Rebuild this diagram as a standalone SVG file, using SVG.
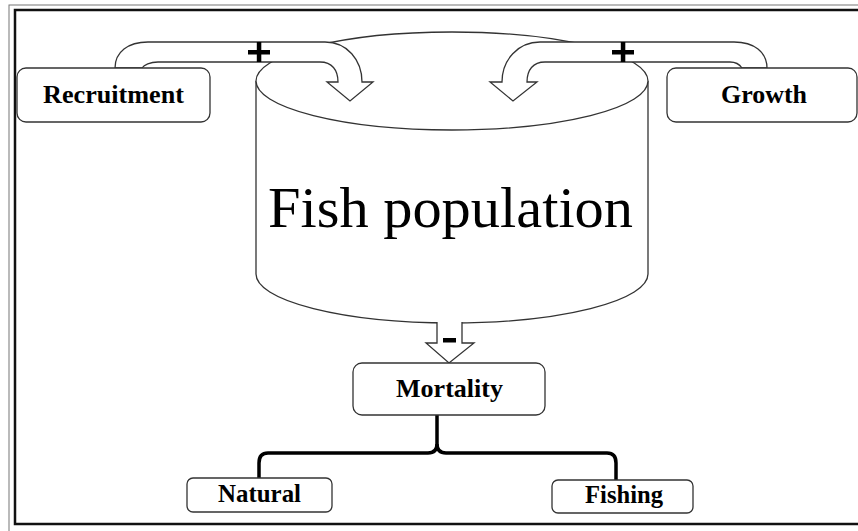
<svg xmlns="http://www.w3.org/2000/svg" width="858" height="531" viewBox="0 0 858 531">
<style>
.shape{fill:#fff;stroke:#333;stroke-width:1.3}
.box{fill:#fff;stroke:#333;stroke-width:1.3}
.lbl{font-family:"Liberation Serif","Times New Roman",serif;font-weight:bold;font-size:25px;fill:#000;text-anchor:middle}
.big{font-family:"Liberation Serif","Times New Roman",serif;font-size:58px;fill:#000;text-anchor:middle}
.sign{fill:#000}
.brace{fill:none;stroke:#000;stroke-width:3.5;stroke-linecap:butt}
</style>
<rect width="858" height="531" fill="#fff"/>
<rect x="9" y="5" width="870" height="540" fill="none" stroke="#777" stroke-width="1"/>
<rect x="15" y="10" width="870" height="514" fill="none" stroke="#111" stroke-width="2.5"/>

<g id="fish-population">
<path class="shape" d="M256,81 A196,49 0 0 1 648,81 L648,274 A196,49 0 0 1 256,274 Z"/>
<path class="shape" fill="none" d="M256,81 A196,49 0 0 0 648,81"/>
<text class="big" x="450.5" y="227" textLength="365" lengthAdjust="spacingAndGlyphs">Fish population</text>
</g>

<g id="connectors">
<path class="shape" d="M115,68 C115,52 128,42 148,42 L325,42 C347,42 362,60 362,82 L373,82 L350,101 L327,82 L338,82 C338,70 332,62 320,62 L158,62 C150,62 144,65 142,68 Z"/>
<rect class="sign" x="248" y="50" width="22" height="4.5"/>
<rect class="sign" x="256.8" y="42" width="4.5" height="20"/>
<path class="shape" d="M767,68 C767,52 754,42 734,42 L540,42 C518,42 502,60 502,82 L490,82 L513,101 L537,82 L527,82 C527,70 533,62 545,62 L730,62 C736,62 740,65 742,68 Z"/>
<rect class="sign" x="612" y="50" width="22" height="4.5"/>
<rect class="sign" x="620.8" y="42" width="4.5" height="20"/>
<path class="shape" d="M437,322 L437,343 L426,343 L449,363 L474,343 L462,343 L462,322"/>
<rect class="sign" x="443" y="338" width="13" height="4.5"/>
<path class="brace" d="M437,415 L437,444 C437,450 434,453 428,453 L268,453 C262,453 259,456 259,463 L259,478"/>
<path class="brace" d="M437,444 C437,450 440,453 446,453 L607,453 C613,453 616,456 616,463 L616,480"/>
</g>

<g id="recruitment">
<rect class="box" x="17" y="68" width="193" height="54" rx="9"/>
<text class="lbl" x="113.5" y="103" textLength="141" lengthAdjust="spacingAndGlyphs">Recruitment</text>
</g>
<g id="growth">
<rect class="box" x="667" y="68" width="190" height="54" rx="9"/>
<text class="lbl" x="764" y="103" textLength="86" lengthAdjust="spacingAndGlyphs">Growth</text>
</g>
<g id="mortality">
<rect class="box" x="353" y="363" width="192" height="52" rx="9"/>
<text class="lbl" x="449.5" y="397" textLength="107" lengthAdjust="spacingAndGlyphs">Mortality</text>
</g>
<g id="natural">
<rect class="box" x="187" y="478" width="145" height="34" rx="6"/>
<text class="lbl" x="259.5" y="502" textLength="83" lengthAdjust="spacingAndGlyphs">Natural</text>
</g>
<g id="fishing">
<rect class="box" x="552" y="480" width="141" height="33" rx="6"/>
<text class="lbl" x="624" y="503" textLength="78" lengthAdjust="spacingAndGlyphs">Fishing</text>
</g>
</svg>
